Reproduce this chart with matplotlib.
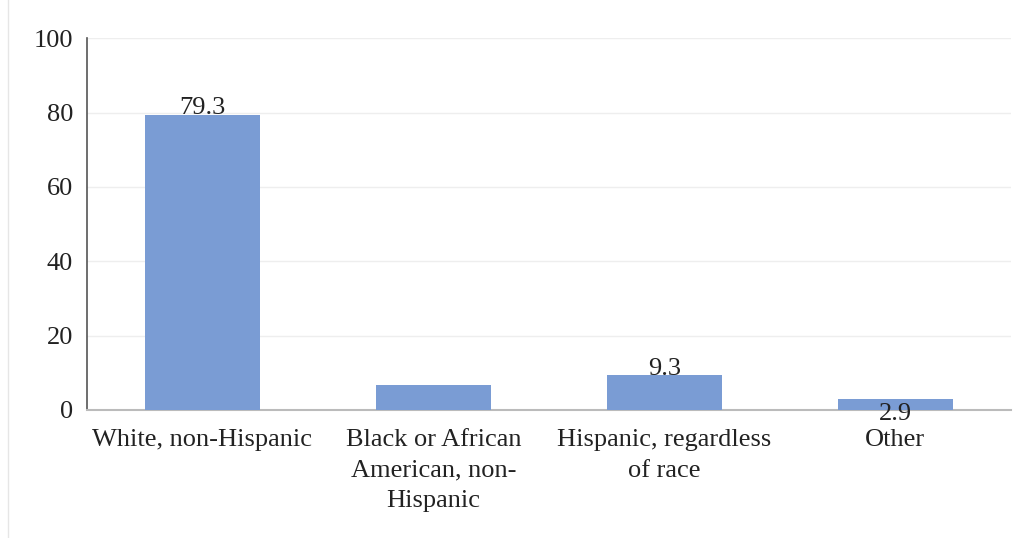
import matplotlib.pyplot as plt
from matplotlib.lines import Line2D

# Datos del gráfico
categorias = ["White, non-Hispanic", "Black or African\nAmerican, non-\nHispanic",
              "Hispanic, regardless\nof race", "Other"]
valores = [79.3, 6.7, 9.3, 2.9]
etiquetas = ["79.3", "", "9.3", "2.9"]  # la barra de Black no tiene etiqueta
yticks = [0, 20, 40, 60, 80, 100]

plt.rcParams['font.family'] = ['Liberation Serif', 'DejaVu Serif']
plt.rcParams['font.size'] = 19

fig = plt.figure(figsize=(10.24, 5.38), dpi=100)
ax = fig.add_axes([0.085, 0.238, 0.902, 0.691])

x = range(len(categorias))
bars = ax.bar(x, valores, width=0.5, color='#7A9CD4', zorder=3)

ax.set_xlim(-0.5, 3.5)
ax.set_ylim(0, 100)
ax.set_yticks(yticks)
ax.set_xticks(list(x))
ax.set_xticklabels(categorias, color='#222222', linespacing=1.5)
ax.tick_params(axis='y', length=0, pad=10, colors='#222222')
ax.tick_params(axis='x', length=0, pad=14, colors='#222222')
ax.grid(axis='y', color='#eeeeee', linewidth=1, zorder=0)

for s in ['top', 'right']:
    ax.spines[s].set_visible(False)
ax.spines['left'].set_color('#555555')
ax.spines['left'].set_linewidth(1.2)
ax.spines['bottom'].set_color('#bbbbbb')
ax.spines['bottom'].set_linewidth(1.5)

# Etiquetas de valores
for i, (v, t) in enumerate(zip(valores, etiquetas)):
    if not t:
        continue
    if v < 5:
        ax.annotate(t, (i, v), xytext=(0, -3), textcoords='offset points',
                    ha='center', va='top', color='#222222', zorder=4)
    else:
        ax.annotate(t, (i, v), xytext=(0, -3), textcoords='offset points',
                    ha='center', va='bottom', color='#222222', zorder=4)

# Borde izquierdo de la figura
fig.add_artist(Line2D([8 / 1024, 8 / 1024], [0, 1], transform=fig.transFigure,
                      color='#e6e6e6', linewidth=1))

fig.savefig('out.png', dpi=100)
